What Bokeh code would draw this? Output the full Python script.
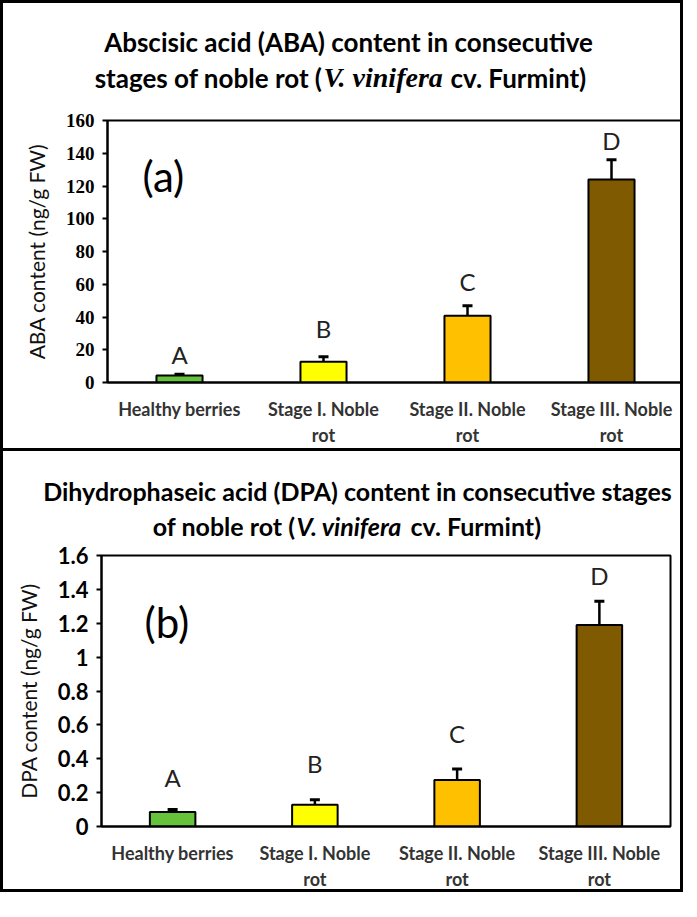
from bokeh.plotting import figure
from bokeh.models import (ColumnDataSource, FactorRange, Range1d, FixedTicker,
                          Whisker, TeeHead, CustomJSTickFormatter)
from bokeh.core.properties import value
from bokeh.layouts import column
from bokeh.embed import file_html
from bokeh.resources import INLINE

# ---------------- data ----------------
categories = ["Healthy berries", "Stage I. Noble\nrot", "Stage II. Noble\nrot", "Stage III. Noble\nrot"]
bar_colors = ["#66C23A", "#FFFF00", "#FFC000", "#7F5A00"]
letters = ["A", "B", "C", "D"]

aba_values = [4.3, 12.6, 40.8, 124.0]
aba_errors = [0.8, 3.2, 6.0, 12.0]
aba_letter_y = [17.0, 33.0, 61.5, 148.0]
aba_ticks = [0, 20, 40, 60, 80, 100, 120, 140, 160]

dpa_values = [0.085, 0.128, 0.274, 1.19]
dpa_errors = [0.015, 0.030, 0.065, 0.14]
dpa_letter_y = [0.29, 0.37, 0.55, 1.48]
dpa_ticks = [0, 0.2, 0.4, 0.6, 0.8, 1.0, 1.2, 1.4, 1.6]

aba_title_1 = "Abscisic acid (ABA) content in consecutive"
aba_title_2 = ["stages of noble rot (", "V. vinifera", "cv. Furmint)"]
dpa_title_1 = "Dihydrophaseic acid (DPA) content in consecutive stages"
dpa_title_2 = ["of noble rot (", "V. vinifera", "cv. Furmint)"]

W = 683
BORDER = "3px solid black"


def title_fig(height, styles):
    t = figure(width=W, height=height, x_range=Range1d(0, W), y_range=Range1d(0, height),
               output_backend="svg", toolbar_location=None, min_border=0,
               x_axis_location=None, y_axis_location=None, styles=styles)
    t.frame_align = False
    t.xgrid.visible = False
    t.ygrid.visible = False
    t.outline_line_color = None
    t.border_fill_color = "white"
    return t


def ttext(t, x, y, txt, size="26px", style="bold", font="Lato", align="center"):
    t.text(x=[x], y=[y], text=[txt], text_font=value(font), text_font_size=size,
           text_font_style=style, text_align=align, text_baseline="middle", text_color="black")


def make_panel(values, errors, letter_y, ticks, ymax, ylabel, height,
               mb_left, mb_right, mb_top, mb_bottom, tick_font, tick_size, styles):
    src = ColumnDataSource(dict(
        cat=categories, val=values,
        upper=[v + e for v, e in zip(values, errors)],
        color=bar_colors, letter=letters, ly=letter_y,
    ))
    p = figure(x_range=FactorRange(factors=categories), y_range=Range1d(0, ymax),
               width=W, height=height, output_backend="svg", toolbar_location=None,
               min_border_left=mb_left, min_border_right=mb_right,
               min_border_top=mb_top, min_border_bottom=mb_bottom, styles=styles)
    p.frame_align = False
    p.xgrid.visible = False
    p.ygrid.visible = False
    p.outline_line_color = "black"
    p.outline_line_width = 2
    p.background_fill_color = "white"
    p.border_fill_color = "white"

    p.vbar(x="cat", top="val", width=0.32, source=src, fill_color="color",
           line_color="black", line_width=2)
    wh = Whisker(base="cat", lower="val", upper="upper", source=src, dimension="height",
                 line_color="black", line_width=2.5, lower_head=None,
                 upper_head=TeeHead(size=10, line_width=3, line_color="black"))
    p.add_layout(wh)
    p.text(x="cat", y="ly", text="letter", source=src, text_align="center",
           text_baseline="middle", text_font=value("Lato"), text_font_size="24px",
           text_color="#222222")

    yax = p.yaxis[0]
    yax.ticker = FixedTicker(ticks=ticks)
    yax.formatter = CustomJSTickFormatter(code="return String(Math.round(tick*10)/10);")
    yax.axis_line_width = 2
    yax.axis_line_color = "black"
    yax.major_tick_line_width = 2
    yax.major_tick_out = 5
    yax.major_tick_in = 0
    yax.minor_tick_line_color = None
    yax.major_label_text_font = tick_font
    yax.major_label_text_font_style = "bold"
    yax.major_label_text_font_size = tick_size
    yax.major_label_text_color = "black"
    yax.major_label_standoff = 8
    yax.axis_label = ylabel
    yax.axis_label_text_font = "Lato"
    yax.axis_label_text_font_style = "normal"
    yax.axis_label_text_font_size = "21px"
    yax.axis_label_text_color = "#111111"
    yax.axis_label_standoff = 14

    xax = p.xaxis[0]
    xax.axis_line_width = 2
    xax.axis_line_color = "black"
    xax.major_tick_line_color = None
    xax.minor_tick_line_color = None
    xax.major_label_text_font = "Lato"
    xax.major_label_text_font_style = "bold"
    xax.major_label_text_font_size = "18px"
    xax.major_label_text_color = "#333333"
    xax.major_label_standoff = 9
    return p


# ---------------- Panel (a) ----------------
ta = title_fig(100, {"border-top": BORDER, "border-left": BORDER, "border-right": BORDER})
ttext(ta, 345, 62, aba_title_1)
ttext(ta, 319, 26, aba_title_2[0], align="right")
ttext(ta, 320, 26, aba_title_2[1], size="28px", style="bold italic", font="Liberation Serif", align="left")
ttext(ta, 447, 26, aba_title_2[2], align="left")

pa = make_panel(aba_values, aba_errors, aba_letter_y, aba_ticks, 160, "ABA content (ng/g FW)",
                351, 104, 3, 20, 69, "Liberation Serif", "19px",
                {"border-left": BORDER, "border-right": BORDER, "border-bottom": BORDER})
pa.text(x=[0], y=[126], text=["(a)"], x_offset=35, text_font=value("Lato"), text_font_size="42px",
        text_align="left", text_baseline="middle", text_color="black")

# ---------------- Panel (b) ----------------
tb = title_fig(90, {"border-left": BORDER, "border-right": BORDER})
ttext(tb, 354, 51, dpa_title_1, size="25px")
ttext(tb, 292, 16, dpa_title_2[0], size="25px", align="right")
ttext(tb, 293, 16, dpa_title_2[1], size="25px", style="bold italic", align="left")
ttext(tb, 407, 16, dpa_title_2[2], size="25px", align="left")

pb = make_panel(dpa_values, dpa_errors, dpa_letter_y, dpa_ticks, 1.6, "DPA content (ng/g FW)",
                351, 98, 16, 14, 63, "Lato", "22px",
                {"border-left": BORDER, "border-right": BORDER, "border-bottom": BORDER})
pb.text(x=[0], y=[1.21], text=["(b)"], x_offset=43, text_font=value("Lato"), text_font_size="42px",
        text_align="left", text_baseline="middle", text_color="black")

layout = column(ta, pa, tb, pb, spacing=0)
open("out.html", "w").write(file_html(layout, INLINE))
